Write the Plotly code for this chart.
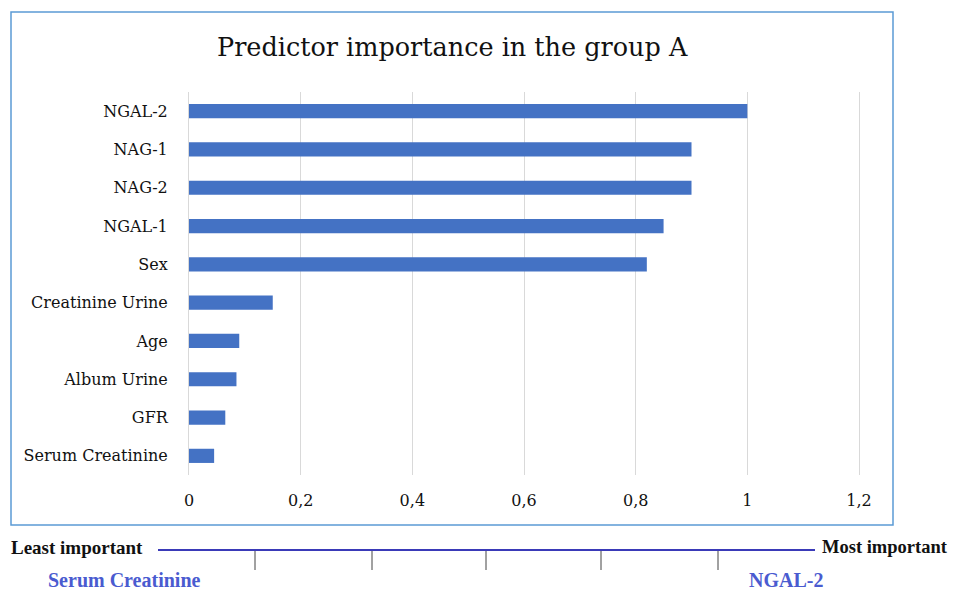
import plotly.graph_objects as go

categories = ["NGAL-2", "NAG-1", "NAG-2", "NGAL-1", "Sex", "Creatinine Urine",
              "Age", "Album Urine", "GFR", "Serum Creatinine"]
values = [1.0, 0.9, 0.9, 0.85, 0.82, 0.15, 0.09, 0.085, 0.065, 0.045]
x_ticks = [0, 0.2, 0.4, 0.6, 0.8, 1.0, 1.2]
x_tick_labels = ["0", "0,2", "0,4", "0,6", "0,8", "1", "1,2"]

OFF = 8  # page body margin
W, H = 959 - OFF, 590 - OFF
L, R, T, B = 189 - OFF, 100, 92 - OFF, 115
PW, PH = W - L - R, H - T - B

def px(x):
    return (x - OFF - L) / PW

def py(y):
    return 1 - (y - OFF - T) / PH

SERIF = "DejaVu Serif"
SERIF2 = "Liberation Serif"

fig = go.Figure(go.Bar(
    x=values, y=categories, orientation="h",
    marker=dict(color="#4472c4", line=dict(width=0)),
    width=0.37,
))

shapes = [
    dict(type="rect", xref="paper", yref="paper",
         x0=px(11), x1=px(893), y0=py(525), y1=py(12),
         line=dict(color="#5b9bd5", width=1.5), layer="below"),
    dict(type="line", xref="paper", yref="paper",
         x0=px(158), x1=px(815), y0=py(550), y1=py(550),
         line=dict(color="#3a3ab8", width=2)),
]
for tx in [255, 372, 486, 601, 718]:
    shapes.append(dict(type="line", xref="paper", yref="paper",
                       x0=px(tx), x1=px(tx), y0=py(551), y1=py(570),
                       line=dict(color="#444444", width=1)))

annotations = [
    dict(text="Predictor importance in the group A", xref="paper", yref="paper",
         x=px(452), y=py(47), xanchor="center", yanchor="middle", showarrow=False,
         font=dict(family=SERIF, size=25.5, color="#111111")),
    dict(text="<b>Least important</b>", xref="paper", yref="paper",
         x=px(9), y=py(547), xanchor="left", yanchor="middle", showarrow=False,
         font=dict(family=SERIF2, size=19, color="#111111")),
    dict(text="<b>Most important</b>", xref="paper", yref="paper",
         x=px(820), y=py(547), xanchor="left", yanchor="middle", showarrow=False,
         font=dict(family=SERIF2, size=18.5, color="#111111")),
    dict(text="<b>Serum Creatinine</b>", xref="paper", yref="paper",
         x=px(46), y=py(580), xanchor="left", yanchor="middle", showarrow=False,
         font=dict(family=SERIF2, size=20, color="#4a5bd0")),
    dict(text="<b>NGAL-2</b>", xref="paper", yref="paper",
         x=px(747), y=py(580), xanchor="left", yanchor="middle", showarrow=False,
         font=dict(family=SERIF2, size=20, color="#4a5bd0")),
]

fig.update_layout(
    width=W, height=H,
    margin=dict(l=L, r=R, t=T, b=B),
    paper_bgcolor="white", plot_bgcolor="white",
    showlegend=False,
    shapes=shapes, annotations=annotations,
    xaxis=dict(range=[0, 1.2], tickvals=x_ticks, ticktext=x_tick_labels,
               showgrid=True, gridcolor="#d9d9d9", gridwidth=1,
               zeroline=False, showline=False, ticks="",
               ticklabelstandoff=14,
               tickfont=dict(family=SERIF, size=16, color="#111111")),
    yaxis=dict(autorange="reversed", categoryorder="array", categoryarray=categories,
               showgrid=False, zeroline=False, showline=True, mirror=True,
               linecolor="#d9d9d9", linewidth=1, ticks="",
               ticklabelstandoff=17,
               tickfont=dict(family=SERIF, size=16, color="#111111")),
)

fig.write_html("out.html")
